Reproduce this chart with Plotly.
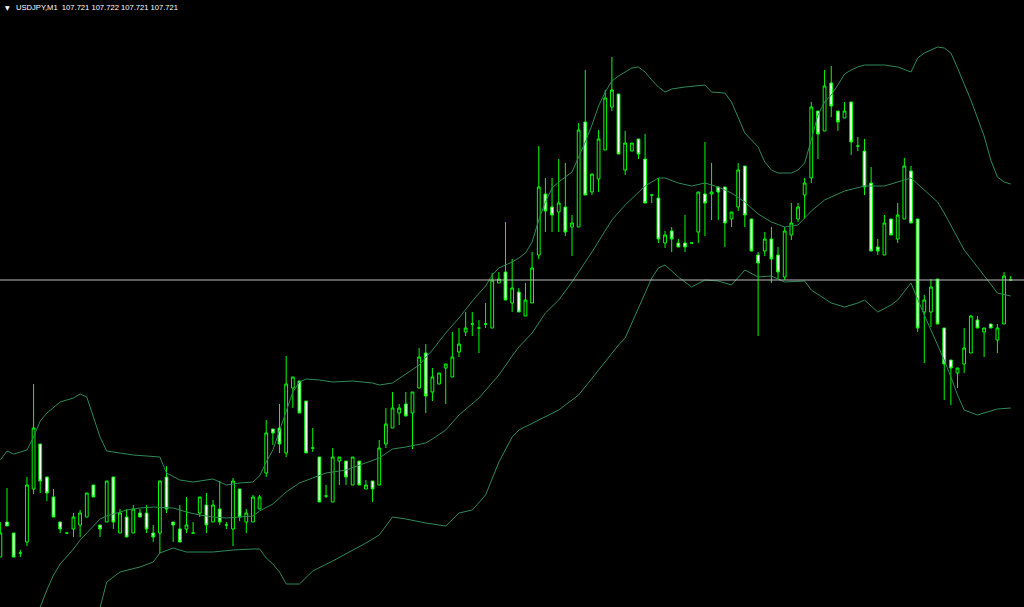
import plotly.graph_objects as go

# USDJPY M1 candles (bar index 0 = oldest visible bar)
opens = [
    107.444, 107.479, 107.468, 107.448, 107.459, 107.512, 107.557, 107.524, 107.504, 107.479,
    107.468, 107.472, 107.476, 107.484, 107.516, 107.476, 107.479, 107.524, 107.468, 107.484,
    107.468, 107.488, 107.488, 107.468, 107.468, 107.524, 107.479, 107.472, 107.472, 107.468,
    107.488, 107.496, 107.479, 107.492, 107.476, 107.472, 107.512, 107.479, 107.479, 107.492,
    107.528, 107.572, 107.573, 107.548, 107.613, 107.620, 107.600, 107.553, 107.544, 107.505,
    107.499, 107.540, 107.540, 107.516, 107.540, 107.512, 107.520, 107.516, 107.557, 107.573,
    107.588, 107.597, 107.588, 107.613, 107.648, 107.609, 107.617, 107.633, 107.624, 107.649,
    107.669, 107.677, 107.673, 107.677, 107.673, 107.718, 107.729, 107.698, 107.709, 107.685,
    107.698, 107.746, 107.807, 107.794, 107.789, 107.794, 107.774, 107.774, 107.879, 107.809,
    107.822, 107.851, 107.894, 107.907, 107.831, 107.850, 107.862, 107.842, 107.806, 107.803,
    107.758, 107.770, 107.758, 107.758, 107.758, 107.769, 107.807, 107.807, 107.814, 107.814,
    107.782, 107.794, 107.835, 107.782, 107.746, 107.750, 107.762, 107.746, 107.724, 107.766,
    107.782, 107.806, 107.823, 107.890, 107.870, 107.918, 107.890, 107.883, 107.899, 107.855,
    107.850, 107.818, 107.754, 107.746, 107.782, 107.762, 107.782, 107.830, 107.782, 107.689,
    107.689, 107.722, 107.673, 107.641, 107.628, 107.637, 107.648, 107.681, 107.669, 107.677,
    107.661, 107.677, 107.721,
]
highs = [
    107.479, 107.513, 107.468, 107.451, 107.524, 107.617, 107.557, 107.524, 107.512, 107.479,
    107.468, 107.488, 107.491, 107.508, 107.516, 107.476, 107.520, 107.524, 107.492, 107.492,
    107.496, 107.492, 107.496, 107.476, 107.520, 107.535, 107.479, 107.496, 107.504, 107.479,
    107.504, 107.508, 107.501, 107.520, 107.479, 107.523, 107.512, 107.492, 107.506, 107.506,
    107.581, 107.572, 107.597, 107.645, 107.624, 107.620, 107.600, 107.573, 107.544, 107.516,
    107.553, 107.544, 107.540, 107.544, 107.540, 107.521, 107.520, 107.561, 107.593, 107.609,
    107.597, 107.609, 107.609, 107.653, 107.657, 107.633, 107.628, 107.637, 107.669, 107.673,
    107.689, 107.689, 107.681, 107.698, 107.728, 107.729, 107.779, 107.742, 107.713, 107.718,
    107.749, 107.855, 107.823, 107.823, 107.842, 107.838, 107.786, 107.878, 107.931, 107.827,
    107.871, 107.911, 107.944, 107.907, 107.870, 107.858, 107.862, 107.867, 107.806, 107.823,
    107.770, 107.774, 107.762, 107.786, 107.758, 107.809, 107.859, 107.838, 107.814, 107.814,
    107.789, 107.838, 107.835, 107.782, 107.749, 107.769, 107.774, 107.754, 107.774, 107.798,
    107.798, 107.823, 107.899, 107.890, 107.931, 107.935, 107.890, 107.899, 107.899, 107.864,
    107.862, 107.834, 107.762, 107.786, 107.782, 107.798, 107.843, 107.835, 107.782, 107.706,
    107.722, 107.722, 107.673, 107.641, 107.633, 107.673, 107.686, 107.685, 107.673, 107.677,
    107.677, 107.729, 107.725,
]
lows = [
    107.444, 107.475, 107.444, 107.444, 107.455, 107.507, 107.508, 107.500, 107.484, 107.468,
    107.468, 107.464, 107.464, 107.484, 107.504, 107.464, 107.479, 107.472, 107.468, 107.464,
    107.468, 107.484, 107.468, 107.459, 107.448, 107.488, 107.459, 107.459, 107.468, 107.468,
    107.484, 107.468, 107.479, 107.476, 107.472, 107.455, 107.480, 107.468, 107.479, 107.492,
    107.524, 107.556, 107.548, 107.544, 107.593, 107.588, 107.548, 107.549, 107.499, 107.503,
    107.499, 107.516, 107.516, 107.516, 107.516, 107.512, 107.499, 107.516, 107.553, 107.573,
    107.576, 107.585, 107.552, 107.613, 107.588, 107.600, 107.617, 107.597, 107.624, 107.644,
    107.665, 107.665, 107.648, 107.673, 107.673, 107.718, 107.701, 107.689, 107.689, 107.685,
    107.698, 107.742, 107.769, 107.769, 107.769, 107.765, 107.745, 107.774, 107.806, 107.806,
    107.809, 107.851, 107.890, 107.847, 107.826, 107.850, 107.842, 107.798, 107.798, 107.758,
    107.753, 107.749, 107.754, 107.749, 107.758, 107.758, 107.765, 107.781, 107.781, 107.754,
    107.774, 107.790, 107.774, 107.750, 107.665, 107.745, 107.718, 107.722, 107.721, 107.761,
    107.779, 107.782, 107.818, 107.842, 107.870, 107.884, 107.870, 107.883, 107.846, 107.850,
    107.806, 107.750, 107.746, 107.746, 107.766, 107.758, 107.782, 107.778, 107.669, 107.638,
    107.674, 107.677, 107.601, 107.596, 107.613, 107.628, 107.648, 107.673, 107.644, 107.673,
    107.648, 107.677, 107.721,
]
closes = [
    107.468, 107.475, 107.444, 107.448, 107.516, 107.573, 107.520, 107.508, 107.484, 107.472,
    107.468, 107.484, 107.488, 107.508, 107.504, 107.472, 107.520, 107.479, 107.488, 107.464,
    107.492, 107.484, 107.472, 107.464, 107.520, 107.492, 107.476, 107.459, 107.476, 107.468,
    107.504, 107.476, 107.496, 107.479, 107.476, 107.520, 107.484, 107.488, 107.504, 107.504,
    107.568, 107.568, 107.557, 107.617, 107.624, 107.588, 107.548, 107.553, 107.499, 107.505,
    107.544, 107.544, 107.524, 107.544, 107.516, 107.516, 107.512, 107.553, 107.577, 107.593,
    107.593, 107.585, 107.609, 107.644, 107.605, 107.624, 107.628, 107.637, 107.644, 107.657,
    107.673, 107.677, 107.673, 107.677, 107.721, 107.722, 107.701, 107.713, 107.689, 107.701,
    107.733, 107.814, 107.790, 107.786, 107.798, 107.769, 107.778, 107.871, 107.806, 107.827,
    107.862, 107.903, 107.911, 107.847, 107.858, 107.858, 107.847, 107.798, 107.806, 107.762,
    107.766, 107.762, 107.754, 107.754, 107.758, 107.809, 107.798, 107.809, 107.809, 107.778,
    107.789, 107.831, 107.786, 107.750, 107.738, 107.762, 107.742, 107.729, 107.770, 107.778,
    107.794, 107.818, 107.894, 107.867, 107.915, 107.895, 107.879, 107.890, 107.859, 107.855,
    107.814, 107.750, 107.750, 107.778, 107.766, 107.786, 107.835, 107.778, 107.673, 107.701,
    107.714, 107.677, 107.637, 107.633, 107.633, 107.653, 107.685, 107.673, 107.673, 107.673,
    107.673, 107.725, 107.721,
]

# Bollinger bands, (bar, price) read at turning points
band_upper = [
    (0, 107.541), (1, 107.550), (2, 107.547), (4, 107.551), (5, 107.564), (6, 107.580),
    (7, 107.588), (9, 107.599), (11, 107.603), (12, 107.607), (13, 107.604), (14, 107.585),
    (15, 107.564), (16, 107.550), (17, 107.549), (20, 107.546), (24, 107.544), (25, 107.528),
    (27, 107.521), (29, 107.519), (32, 107.522), (34, 107.516), (36, 107.518), (38, 107.519),
    (39, 107.525), (40, 107.539), (41, 107.551), (42, 107.571), (43, 107.591), (44, 107.609),
    (45, 107.619), (46, 107.622), (48, 107.621), (50, 107.619), (53, 107.620), (56, 107.618),
    (57, 107.616), (59, 107.618), (61, 107.627), (63, 107.636), (65, 107.651), (67, 107.668),
    (69, 107.683), (71, 107.700), (73, 107.715), (74, 107.726), (75, 107.733), (77, 107.739),
    (78, 107.743), (79, 107.748), (80, 107.759), (81, 107.781), (82, 107.799), (83, 107.813),
    (84, 107.819), (85, 107.824), (86, 107.829), (87, 107.844), (88, 107.859), (89, 107.876),
    (90, 107.895), (91, 107.909), (92, 107.920), (93, 107.925), (94, 107.929), (95, 107.933),
    (96, 107.934), (97, 107.929), (98, 107.921), (99, 107.914), (100, 107.909), (101, 107.912),
    (103, 107.914), (106, 107.916), (107, 107.909), (109, 107.908), (110, 107.899), (111, 107.883),
    (112, 107.868), (113, 107.861), (114, 107.854), (115, 107.839), (116, 107.831), (117, 107.828),
    (119, 107.828), (120, 107.831), (121, 107.838), (122, 107.861), (123, 107.886), (124, 107.899),
    (125, 107.906), (126, 107.916), (127, 107.927), (128, 107.931), (129, 107.934), (130, 107.936),
    (133, 107.936), (135, 107.934), (137, 107.929), (138, 107.943), (139, 107.948), (140, 107.951),
    (141, 107.954), (142, 107.953), (143, 107.948), (144, 107.933), (145, 107.917), (146, 107.901),
    (147, 107.883), (148, 107.865), (149, 107.841), (150, 107.824), (151, 107.819), (152, 107.817),
]
band_middle = [
    (5, 107.379), (6, 107.394), (7, 107.411), (8, 107.426), (9, 107.437), (10, 107.444),
    (11, 107.452), (12, 107.461), (13, 107.468), (14, 107.476), (15, 107.482), (16, 107.485),
    (19, 107.491), (21, 107.493), (23, 107.494), (26, 107.493), (28, 107.489), (30, 107.486),
    (32, 107.484), (34, 107.483), (36, 107.484), (38, 107.485), (39, 107.490), (41, 107.497),
    (43, 107.509), (45, 107.518), (47, 107.523), (49, 107.528), (52, 107.531), (55, 107.538),
    (57, 107.543), (59, 107.552), (61, 107.554), (64, 107.558), (65, 107.562), (67, 107.571),
    (69, 107.586), (72, 107.603), (75, 107.626), (77, 107.645), (78, 107.654), (80, 107.668),
    (82, 107.688), (84, 107.701), (86, 107.719), (89, 107.749), (92, 107.781), (94, 107.796),
    (97, 107.815), (99, 107.823), (100, 107.823), (102, 107.818), (104, 107.815), (106, 107.818),
    (108, 107.814), (110, 107.808), (112, 107.799), (114, 107.787), (116, 107.779), (118, 107.774),
    (120, 107.776), (122, 107.790), (124, 107.801), (127, 107.810), (130, 107.815), (133, 107.815),
    (135, 107.819), (137, 107.823), (138, 107.817), (139, 107.811), (141, 107.799), (142, 107.788),
    (143, 107.776), (144, 107.764), (145, 107.751), (147, 107.734), (149, 107.717), (150, 107.708),
    (152, 107.705),
]
band_lower = [
    (14, 107.368), (15, 107.394), (16, 107.419), (18, 107.429), (21, 107.434), (23, 107.439),
    (24, 107.448), (26, 107.453), (28, 107.449), (32, 107.449), (35, 107.451), (38, 107.452),
    (39, 107.452), (40, 107.443), (41, 107.437), (42, 107.429), (43, 107.417), (45, 107.417),
    (46, 107.423), (47, 107.430), (50, 107.440), (52, 107.447), (55, 107.458), (57, 107.466),
    (59, 107.484), (61, 107.482), (64, 107.478), (67, 107.475), (69, 107.488), (71, 107.491),
    (73, 107.506), (75, 107.539), (77, 107.564), (78, 107.571), (81, 107.581), (84, 107.591),
    (87, 107.606), (90, 107.631), (93, 107.656), (94, 107.663), (96, 107.693), (98, 107.723),
    (99, 107.733), (100, 107.736), (102, 107.724), (104, 107.714), (106, 107.721), (108, 107.720),
    (110, 107.716), (112, 107.731), (114, 107.724), (116, 107.725), (118, 107.719), (121, 107.720),
    (122, 107.711), (125, 107.698), (127, 107.694), (129, 107.698), (130, 107.701), (132, 107.689),
    (134, 107.696), (135, 107.701), (137, 107.718), (138, 107.701), (139, 107.686), (141, 107.656),
    (142, 107.641), (143, 107.624), (144, 107.606), (145, 107.591), (147, 107.586), (150, 107.592),
    (152, 107.593),
]

bid = 107.721
header = "USDJPY,M1  107.721 107.722 107.721 107.721"

bars = list(range(len(opens)))

fig = go.Figure()

for band in (band_upper, band_middle, band_lower):
    bx, by = zip(*band)
    fig.add_trace(
        go.Scatter(
            x=bx, y=by, mode="lines",
            line=dict(color="#2e8b57", width=1),
            hoverinfo="skip", showlegend=False,
        )
    )

fig.add_trace(
    go.Candlestick(
        x=bars, open=opens, high=highs, low=lows, close=closes,
        increasing=dict(line=dict(color="#00ff00", width=1), fillcolor="#000000"),
        decreasing=dict(line=dict(color="#00ff00", width=1), fillcolor="#ffffff"),
        whiskerwidth=0,
        showlegend=False,
    )
)

# bid line
fig.add_shape(
    type="line", xref="paper", x0=0, x1=1, yref="y", y0=bid, y1=bid,
    line=dict(color="#c0c0c0", width=1),
)

fig.add_annotation(
    xref="paper", yref="paper", x=3 / 1024, y=1 - 2 / 607,
    xanchor="left", yanchor="top", showarrow=False,
    text="▼", font=dict(family="DejaVu Sans", size=6, color="#ffffff"),
)
fig.add_annotation(
    xref="paper", yref="paper", x=14 / 1024, y=1 - 1 / 607,
    xanchor="left", yanchor="top", showarrow=False,
    text=header, font=dict(family="Liberation Sans", size=7.6, color="#ffffff"),
)

fig.update_layout(
    width=1024, height=607,
    margin=dict(l=0, r=0, t=0, b=0),
    paper_bgcolor="#000000", plot_bgcolor="#000000",
    boxgap=0.4,
    xaxis=dict(range=[-0.053, 154.0], visible=False, rangeslider=dict(visible=False)),
    yaxis=dict(range=[107.394, 108.001], visible=False),
    showlegend=False,
)

# page has a default body margin; drop it so the chart fills the window
fig.write_html(
    "out.html",
    config={"displayModeBar": False},
    post_script="document.body.style.margin='0';document.body.style.background='#000';",
)
